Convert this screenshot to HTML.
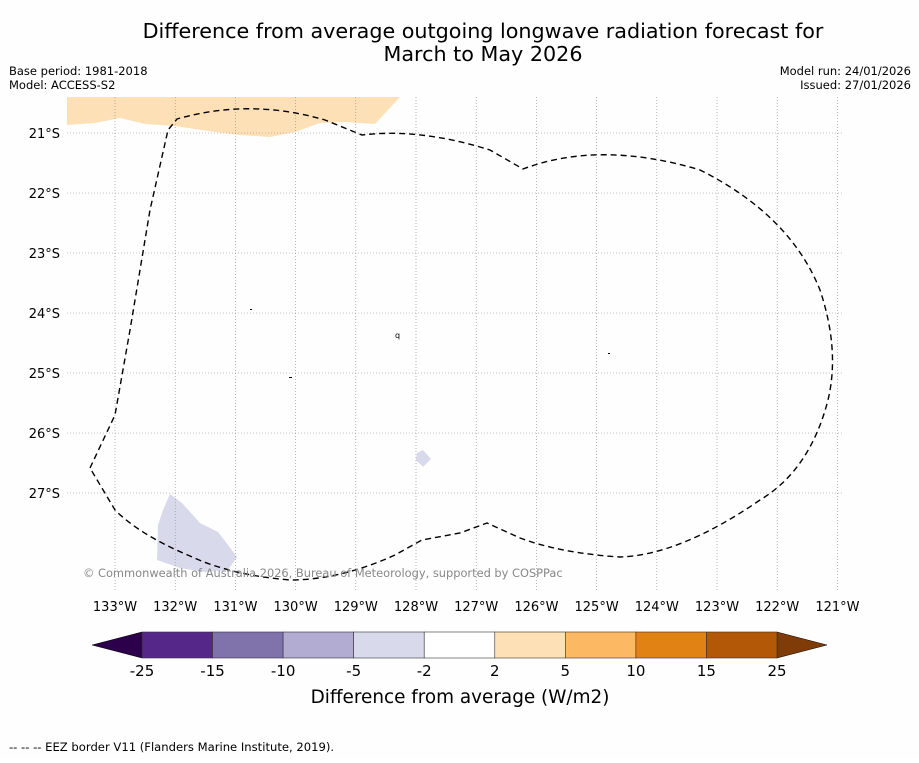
<!DOCTYPE html>
<html><head><meta charset="utf-8"><style>
body{margin:0;background:#fff;font-family:"Liberation Sans","DejaVu Sans",sans-serif;}
svg text{font-family:"DejaVu Sans","Liberation Sans",sans-serif;}
</style></head><body>
<svg width="919" height="758" viewBox="0 0 919 758" xmlns="http://www.w3.org/2000/svg">
<rect width="919" height="758" fill="#fefefe"/>
<text x="483" y="38" font-size="20.7" text-anchor="middle">Difference from average outgoing longwave radiation forecast for</text>
<text x="483" y="61" font-size="20.7" text-anchor="middle">March to May 2026</text>
<text x="9" y="75" font-size="11.5">Base period: 1981-2018</text>
<text x="9" y="89" font-size="11.5">Model: ACCESS-S2</text>
<text x="911" y="75" font-size="11.5" text-anchor="end">Model run: 24/01/2026</text>
<text x="911" y="89" font-size="11.5" text-anchor="end">Issued: 27/01/2026</text>
<g id="map">
<polygon fill="#fee0b6" points="67,97 67,125 95,123 120,118 145,124 175,126 215,132 240,135 270,137 295,132 320,123 345,122 375,124 400,97"/>
<polygon fill="#d8daeb" points="170,494 182,503 200,523 218,532 228,545 237,557 228,570 205,572 180,568 157,560 158,525 163,510"/>
<polygon fill="#d8daeb" points="417,453 423,450 431,459 423,467 416,460"/>
<g id="grid"></g>
<path fill="none" stroke="#000" stroke-width="1.4" stroke-dasharray="6,4" d="M90,468 L115,415 L130,330 L150,210 L168,130 L177,119 Q250,98 325,120 L362,135 Q420,128 490,150 L523,169 Q600,140 700,170 Q790,215 820,290 Q840,350 828,400 Q810,470 760,500 Q680,555 620,557 Q560,553 520,538 L487,523 L460,533 L422,540 L395,555 Q340,580 290,580 Q230,575 190,556 Q140,535 115,510 Z"/>
<text x="395" y="338" font-size="8">q</text>
<rect x="250" y="309" width="2" height="1" fill="#000"/>
<rect x="289" y="377" width="3" height="1" fill="#000"/>
<rect x="608" y="353" width="2" height="1" fill="#000"/>
<text x="83" y="577" font-size="11.4" fill="#888">© Commonwealth of Australia 2026, Bureau of Meteorology, supported by COSPPac</text>
</g>
<g id="cbar"></g>
<text x="460" y="703" font-size="18.4" text-anchor="middle">Difference from average (W/m2)</text>
<text x="9" y="751" font-size="11.6">--  --  -- EEZ border V11 (Flanders Marine Institute, 2019).</text>
</svg>
<script>
const lonTicks=[133,132,131,130,129,128,127,126,125,124,123,122,121];
const latTicks=[21,22,23,24,25,26,27];
const levels=[-25,-15,-10,-5,-2,2,5,10,15,25];
const colors=["#542788","#8073ac","#b2abd2","#d8daeb","#ffffff","#fee0b6","#fdb863","#e08214","#b35806"];
const ns="http://www.w3.org/2000/svg";
const lx=l=>115+(133-l)*60.2;
const ly=l=>133+(l-21)*60;
const g=document.getElementById('grid');
function mk(tag,a,p){const e=document.createElementNS(ns,tag);for(const k in a)e.setAttribute(k,a[k]);p.appendChild(e);return e;}
lonTicks.forEach(l=>{
 const ln=mk('line',{x1:lx(l),x2:lx(l),y1:97,y2:590,stroke:'#888','stroke-width':0.6,'stroke-dasharray':'1,2'},g);
 
 
 const t=mk('text',{x:lx(l),y:611,'font-size':13,'text-anchor':'middle'},g);t.textContent=l+'°W';
 
 
});
latTicks.forEach(l=>{
 const ln=mk('line',{x1:67,x2:843,y1:ly(l),y2:ly(l),stroke:'#888','stroke-width':0.6,'stroke-dasharray':'1,2'},g);
 
 
 const t=mk('text',{x:60,y:ly(l)+5,'font-size':13,'text-anchor':'end'},g);t.textContent=l+'°S';
 
 
});
const cb=document.getElementById('cbar');
const x0=142,x1=777,y0=632,y1=658,n=colors.length,w=(x1-x0)/n;
const lt=mk('polygon',{points:`${x0},${y0} ${x0},${y1} 92,645`,fill:'#2d004b',stroke:'#000','stroke-width':0.5},cb);


const rt=mk('polygon',{points:`${x1},${y0} ${x1},${y1} 827,645`,fill:'#7f3b08',stroke:'#000','stroke-width':0.5},cb);


colors.forEach((c,i)=>{
 const r=mk('rect',{x:x0+i*w,y:y0,width:w,height:y1-y0,fill:c,stroke:'#333','stroke-width':0.6},cb);
 
 
});
levels.forEach((v,i)=>{
 const t=mk('text',{x:x0+i*w,y:676,'font-size':15,'text-anchor':'middle'},cb);t.textContent=v;
 
 
});
</script>
</body></html>
